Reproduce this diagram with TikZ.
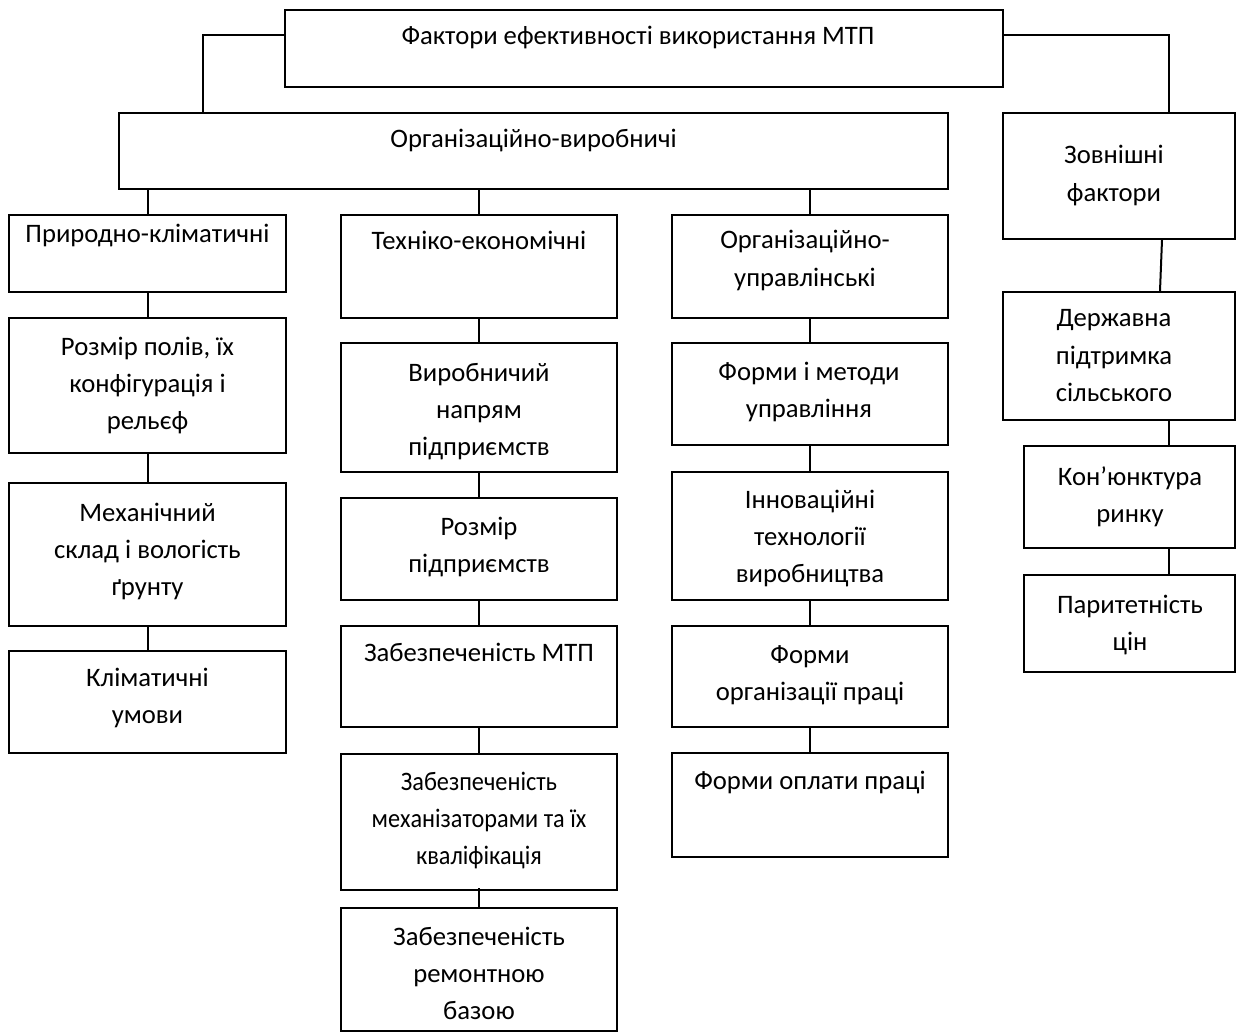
\documentclass[tikz,border=0pt]{standalone}
\usepackage{fontspec}
\setmainfont{Carlito}
\newfontfamily\narrowfont{Carlito}[FakeStretch=0.91]
\usetikzlibrary{fit,calc}
\tikzset{
  box/.style={draw, line width=1.5pt, inner sep=0pt},
  txt/.style={anchor=base, inner sep=0pt, font=\fontsize{20}{28}\selectfont},
  conn/.style={line width=1.5pt}
}
\newcommand\bx[5]{\coordinate (#1-a) at (#2,#3); \coordinate (#1-b) at (#4,#5); \node[box, fit=(#1-a)(#1-b)] (#1) {};}
\newcommand\tx[4]{\node[txt] (#1-t) at (#2,#3) {\begin{tabular}[t]{@{}c@{}}#4\end{tabular}};}
\begin{document}
\begin{tikzpicture}[x=0.75pt, y=-0.75pt]
\useasboundingbox (0,0) rectangle (1239,1034);
% boxes
\bx{top}{285}{10}{1003}{87}
\bx{ov}{119}{113}{948}{189}
\bx{zf}{1003}{113}{1235}{239}
\bx{pk}{9}{215}{286}{292}
\bx{te}{341}{215}{617}{318}
\bx{ou}{672}{215}{948}{318}
\bx{rp}{9}{318}{286}{453}
\bx{ms}{9}{483}{286}{626}
\bx{kl}{9}{651}{286}{753}
\bx{vn}{341}{343}{617}{472}
\bx{rz}{341}{498}{617}{600}
\bx{mt}{341}{626}{617}{727}
\bx{mz}{341}{754}{617}{890}
\bx{rb}{341}{908}{617}{1031}
\bx{fm}{672}{343}{948}{445}
\bx{it}{672}{472}{948}{600}
\bx{fo}{672}{626}{948}{727}
\bx{fp}{672}{753}{948}{857}
\bx{dp}{1003}{292}{1235}{420}
\bx{kr}{1024}{446}{1235}{548}
\bx{pc}{1024}{575}{1235}{672}
% texts
\tx{top}{638}{45}{Фактори ефективності використання МТП}
\tx{ov}{533.5}{148}{Організаційно-виробничі}
\tx{zf}{1114}{164}{Зовнішні\\фактори}
\tx{pk}{147.5}{243}{Природно-кліматичні}
\tx{te}{479}{250}{Техніко-економічні}
\tx{ou}{805}{249}{Організаційно-\\управлінські}
\tx{rp}{147.5}{355}{Розмір полів, їх\\конфігурація і\\рельєф}
\tx{ms}{147.5}{521}{Механічний\\склад і вологість\\ґрунту}
\tx{kl}{147.5}{686}{Кліматичні\\умови}
\tx{vn}{479}{381}{Виробничий\\напрям\\підприємств}
\tx{rz}{479}{535}{Розмір\\підприємств}
\tx{mt}{479}{661}{Забезпеченість МТП}
\tx{mz}{479}{790}{\narrowfont Забезпеченість\\\narrowfont механізаторами та їх\\\narrowfont кваліфікація}
\tx{rb}{479}{945}{Забезпеченість\\ремонтною\\базою}
\tx{fm}{809}{380}{Форми і методи\\управління}
\tx{it}{810}{508}{Інноваційні\\технології\\виробництва}
\tx{fo}{810}{663}{Форми\\організації праці}
\tx{fp}{810}{789}{Форми оплати праці}
\tx{dp}{1114}{327}{Державна\\підтримка\\сільського}
\tx{kr}{1130}{485}{Кон’юнктура\\ринку}
\tx{pc}{1130}{613}{Паритетність\\цін}
% connectors
\coordinate (jL) at (203,35);
\coordinate (jR) at (1169,35);
\draw[conn] (top.west |- jL) -- (jL) -- (jL |- ov.north);
\draw[conn] (top.east |- jR) -- (jR) -- (jR |- zf.north);
\draw[conn] (ov.south -| pk.north) -- (pk.north);
\draw[conn] (ov.south -| te.north) -- (te.north);
\draw[conn] (ov.south -| ou.north) -- (ou.north);
\draw[conn] (pk.south) -- (rp.north);
\draw[conn] (rp.south) -- (ms.north);
\draw[conn] (ms.south) -- (kl.north);
\draw[conn] (te.south) -- (vn.north);
\draw[conn] (vn.south) -- (rz.north);
\draw[conn] (rz.south) -- (mt.north);
\draw[conn] (mt.south) -- (mz.north);
\draw[conn] ([yshift=2.25pt]mz.south) -- ([yshift=-1.5pt]rb.north);
\draw[conn] (ou.south) -- (fm.north);
\draw[conn] (fm.south) -- (it.north);
\draw[conn] (it.south) -- (fo.north);
\draw[conn] (fo.south) -- (fp.north);
\draw[conn] ([xshift=32.25pt]zf.south) -- ([xshift=30.75pt]dp.north);
\draw[conn] ([xshift=29.6pt]kr.north |- dp.south) -- ([xshift=29.6pt]kr.north);
\draw[conn] ([xshift=29.6pt]kr.south) -- ([xshift=29.6pt]pc.north);
\end{tikzpicture}
\end{document}
